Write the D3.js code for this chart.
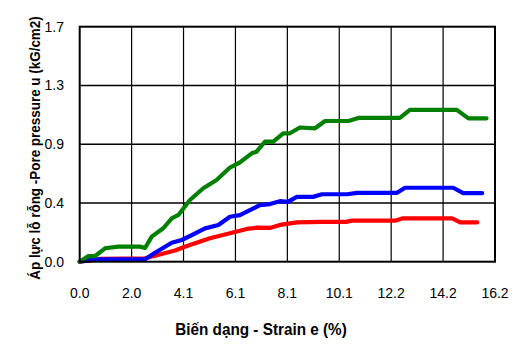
<!DOCTYPE html>
<html><head><meta charset="utf-8">
<script src="https://cdn.jsdelivr.net/npm/d3@7"></script>
<style>body{margin:0;background:#fff}svg{display:block}text{font-family:"Liberation Sans Narrow","Arial Narrow","Liberation Sans",Arial,sans-serif}</style>
</head><body><svg id="c" width="523" height="345"></svg>
<script>
const xTicks = [0, 2.025, 4.05, 6.075, 8.1, 10.125, 12.15, 14.175, 16.2];
const xTickLabels = ["0.0","2.0","4.1","6.1","8.1","10.1","12.2","14.2","16.2"];
const yTicks = [0, 0.425, 0.85, 1.275, 1.7];
const yTickLabels = ["0.0","0.4","0.9","1.3","1.7"];

const greenX = [0,0.34,0.60,0.99,1.51,2.35,2.55,2.81,3.26,3.59,3.85,4.30,4.82,5.34,5.86,6.25,6.71,6.90,7.23,7.55,7.94,8.20,8.59,9.18,9.57,10.48,10.87,12.49,12.88,14.71,15.16,15.87];
const greenY = [0,0.041,0.041,0.097,0.109,0.109,0.099,0.181,0.242,0.314,0.338,0.446,0.531,0.591,0.681,0.718,0.784,0.796,0.868,0.868,0.929,0.929,0.971,0.965,1.018,1.018,1.040,1.040,1.098,1.098,1.037,1.037];
const blueX = [0,0.40,0.79,2.55,2.94,3.59,3.98,4.37,4.89,5.41,5.86,6.25,6.64,7.03,7.42,7.81,8.12,8.47,9.10,9.45,10.43,10.82,12.38,12.69,14.57,14.96,15.70];
const blueY = [0,0.012,0.017,0.017,0.065,0.137,0.157,0.193,0.241,0.265,0.325,0.337,0.373,0.409,0.417,0.438,0.433,0.469,0.469,0.488,0.488,0.498,0.498,0.535,0.535,0.496,0.496];
const redX = [0,0.40,0.79,2.55,3.05,3.72,4.10,4.30,5.08,5.86,6.52,6.91,7.42,7.81,8.47,9.37,10.39,10.62,12.30,12.61,14.53,14.84,15.51];
const redY = [0,0.009,0.020,0.025,0.049,0.081,0.108,0.121,0.169,0.206,0.237,0.246,0.244,0.266,0.285,0.288,0.288,0.297,0.297,0.314,0.314,0.285,0.285];

const series = [
  {xs: redX, ys: redY, color: "#ff0000"},
  {xs: blueX, ys: blueY, color: "#0000ff"},
  {xs: greenX, ys: greenY, color: "#008000"}
];

const L = 79.7, R = 495, T = 26.7, B = 261.7;
const x = d3.scaleLinear().domain([0, 16.2]).range([L, R]);
const y = d3.scaleLinear().domain([0, 1.7]).range([B, T]);
const svg = d3.select("#c");

// grid
svg.append("g").selectAll("line").data(xTicks.slice(1, -1)).join("line")
  .attr("x1", d => x(d)).attr("x2", d => x(d)).attr("y1", T).attr("y2", B)
  .attr("stroke", "#000").attr("stroke-width", 1.2);
svg.append("g").selectAll("line").data(yTicks.slice(1, -1)).join("line")
  .attr("x1", L).attr("x2", R).attr("y1", d => y(d)).attr("y2", d => y(d))
  .attr("stroke", "#000").attr("stroke-width", 1.6);

// lines
const line = d3.line().x(d => x(d[0])).y(d => y(d[1])).curve(d3.curveLinear);
series.forEach(s => {
  svg.append("path").datum(s.xs.map((v, i) => [v, s.ys[i]]))
    .attr("d", line).attr("fill", "none").attr("stroke", s.color)
    .attr("stroke-width", 4.2).attr("stroke-linejoin", "round").attr("stroke-linecap", "round");
});

// frame
svg.append("rect").attr("x", L).attr("y", T).attr("width", R - L).attr("height", B - T)
  .attr("fill", "none").attr("stroke", "#000").attr("stroke-width", 2);

// tick labels
svg.append("g").selectAll("text").data(xTicks).join("text")
  .attr("x", d => x(d)).attr("y", 298).attr("text-anchor", "middle")
  .attr("font-size", 14).text((d, i) => xTickLabels[i]);
svg.append("g").selectAll("text").data(yTicks).join("text")
  .attr("x", 64).attr("y", d => y(d) + 5).attr("text-anchor", "end")
  .attr("font-size", 14).text((d, i) => yTickLabels[i]);

// titles (horizontally condensed to match narrow bold face)
svg.append("text").attr("transform", "translate(261,335) scale(1.02,1.05)").attr("text-anchor", "middle")
  .attr("font-size", 15).attr("font-weight", "bold")
  .text("Biến dạng - Strain e (%)");
svg.append("text").attr("transform", "translate(40,148) rotate(-90) scale(0.96,1.08)").attr("text-anchor", "middle")
  .attr("font-size", 14).attr("font-weight", "bold")
  .text("Áp lực lỗ rỗng -Pore pressure u (kG/cm2)");
</script></body></html>
